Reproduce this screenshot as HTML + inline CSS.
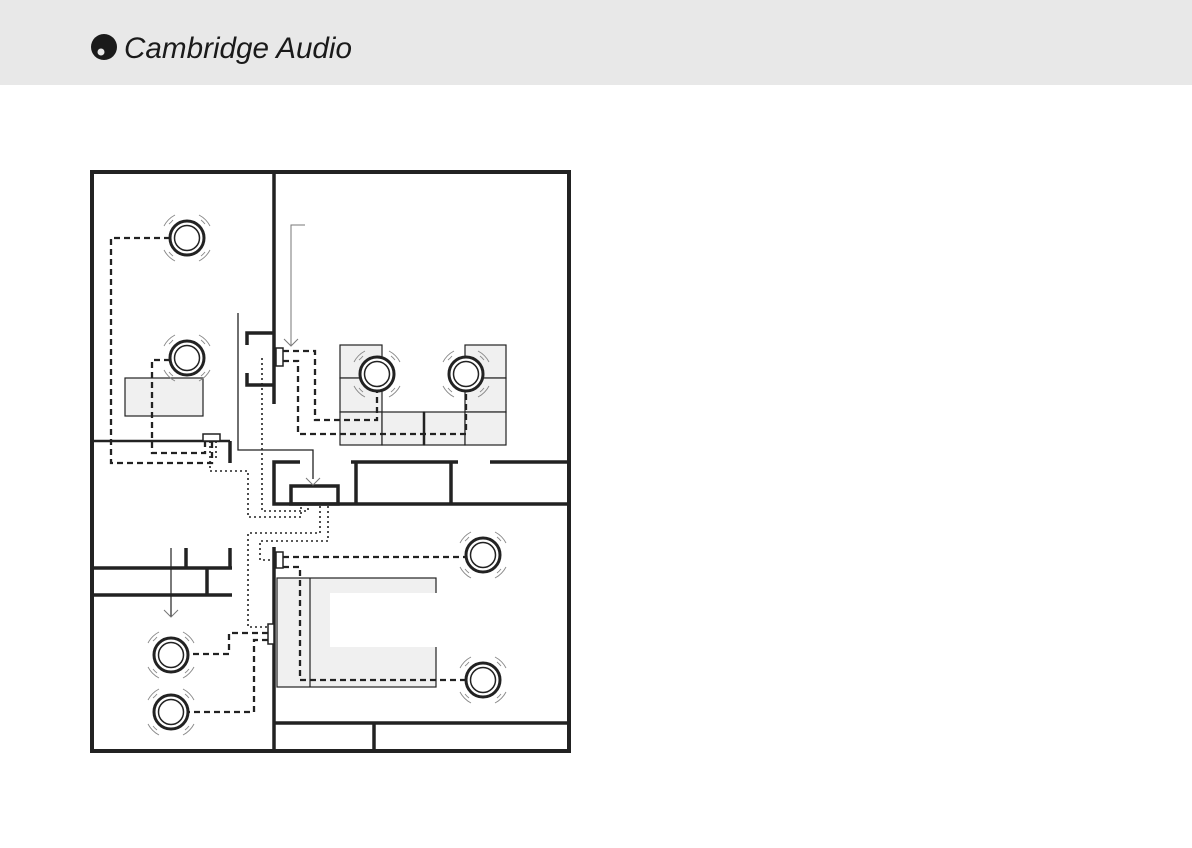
<!DOCTYPE html>
<html><head><meta charset="utf-8"><style>
html,body{margin:0;padding:0;background:#fff;}
</style></head><body>
<svg width="1192" height="843" viewBox="0 0 1192 843" xmlns="http://www.w3.org/2000/svg">
<rect x="0" y="0" width="1192" height="85" fill="#e8e8e8"/>
<circle cx="104" cy="47" r="13" fill="#1a1a1a"/>
<circle cx="101" cy="52" r="3.5" fill="#e8e8e8"/>
<text x="124" y="58" font-family="Liberation Sans, sans-serif" font-style="italic" font-size="30" fill="#1a1a1a" textLength="228" lengthAdjust="spacingAndGlyphs">Cambridge Audio</text>

<g fill="none" stroke="#222">
<rect x="92" y="172" width="477" height="579" stroke-width="4"/>
<g stroke-width="3.5">
<line x1="274" y1="172" x2="274" y2="404"/>
<line x1="274" y1="547" x2="274" y2="751"/>
<polyline points="247,345 247,333 274,333"/>
<polyline points="247,373 247,385 274,385"/>
<polyline points="300,462 274,462 274,504 567,504"/>
<rect x="291" y="486" width="47" height="18"/>
<line x1="351" y1="462" x2="458" y2="462"/>
<line x1="356" y1="462" x2="356" y2="504"/>
<line x1="451" y1="462" x2="451" y2="504"/>
<line x1="490" y1="462" x2="567" y2="462"/>
<line x1="92" y1="441" x2="230" y2="441" stroke-width="2.5"/>
<line x1="230" y1="441" x2="230" y2="463"/>
<line x1="92" y1="568" x2="232" y2="568"/>
<line x1="92" y1="595" x2="232" y2="595"/>
<line x1="186" y1="548" x2="186" y2="568"/>
<line x1="230" y1="548" x2="230" y2="568"/>
<line x1="207" y1="568" x2="207" y2="595"/>
<line x1="274" y1="723" x2="567" y2="723"/>
<line x1="374" y1="723" x2="374" y2="751"/>
</g>
<polyline points="238,313 238,450 313,450 313,479" stroke-width="1.3"/>
<polyline points="306,478 313,485 320,478" stroke="#777" stroke-width="1"/>
<polyline points="305,225 291,225 291,345" stroke="#777" stroke-width="1"/>
<polyline points="284,339 291,346 298,339" stroke="#777" stroke-width="1"/>
<line x1="171" y1="548" x2="171" y2="617" stroke-width="1.2"/>
<polyline points="164,610 171,617 178,610" stroke="#777" stroke-width="1"/>
<rect x="125" y="378" width="78" height="38" fill="#f0f0f0" stroke-width="1.2"/>
<rect x="277" y="578" width="159" height="109" fill="#f0f0f0" stroke-width="1.2"/>
<rect x="330" y="593" width="107" height="54" fill="#fff" stroke="none"/>
<line x1="310" y1="578" x2="310" y2="687" stroke-width="1.2"/>
<g fill="#f0f0f0" stroke-width="1.2">
<rect x="340" y="345" width="42" height="33"/><rect x="340" y="378" width="42" height="34"/>
<rect x="465" y="345" width="41" height="33"/><rect x="465" y="378" width="41" height="34"/>
<rect x="340" y="412" width="42" height="33"/><rect x="382" y="412" width="42" height="33"/>
<rect x="424" y="412" width="41" height="33"/><rect x="465" y="412" width="41" height="33"/>
</g>
<line x1="424" y1="412" x2="424" y2="445" stroke-width="2.5"/>
<g fill="#fff" stroke-width="1.5">
<rect x="203" y="434" width="17" height="7"/>
<rect x="276" y="348" width="7" height="18"/>
<rect x="276" y="552" width="7" height="16"/>
<rect x="268" y="624" width="6" height="20"/>
</g>
<g stroke-width="2.3" stroke-dasharray="6,4">
<polyline points="170,238 111,238 111,463 212,463 212,441"/>
<polyline points="170,360 152,360 152,453 205,453 205,441"/>
<polyline points="283,351 315,351 315,420 377,420 377,391"/>
<polyline points="283,361 298,361 298,434 466,434 466,391"/>
<polyline points="283,557 466,557"/>
<polyline points="283,567 300,567 300,680 466,680"/>
<polyline points="268,633 229,633 229,654 187,654"/>
<polyline points="268,640 254,640 254,712 187,712"/>
</g>
<g stroke-width="1.6" stroke-dasharray="2,3">
<polyline points="210,441 210,471 248,471 248,517 301,517 301,506"/>
<polyline points="216,441 216,460"/>
<polyline points="262,358 262,511 308,511 308,506"/>
<polyline points="320,506 320,533 248,533 248,627 268,627"/>
<polyline points="328,506 328,541 260,541 260,560 276,560"/>
</g>
</g>
<defs>
<g id="spk" fill="none">
<circle r="17" stroke="#222" stroke-width="3"/>
<circle r="12.5" stroke="#222" stroke-width="1.5"/>
<g stroke="#888" stroke-width="0.9">
<path d="M-14,-18 A23,23 0 0 1 -18,-14"/><path d="M-12,-23 A26,26 0 0 0 -23,-12"/>
<path d="M14,-18 A23,23 0 0 1 18,-14"/><path d="M12,-23 A26,26 0 0 1 23,-12"/>
<path d="M-14,18 A23,23 0 0 1 -18,14"/><path d="M-12,23 A26,26 0 0 1 -23,12"/>
<path d="M14,18 A23,23 0 0 0 18,14"/><path d="M12,23 A26,26 0 0 0 23,12"/>
</g>
</g>
</defs>
<g>
<circle cx="187" cy="238" r="17" fill="#fff"/><use href="#spk" x="187" y="238"/>
<circle cx="187" cy="358" r="17" fill="#fff"/><use href="#spk" x="187" y="358"/>
<circle cx="377" cy="374" r="17" fill="#fff"/><use href="#spk" x="377" y="374"/>
<circle cx="466" cy="374" r="17" fill="#fff"/><use href="#spk" x="466" y="374"/>
<use href="#spk" x="483" y="555"/>
<use href="#spk" x="483" y="680"/>
<use href="#spk" x="171" y="655"/>
<use href="#spk" x="171" y="712"/>
</g>
</svg>
</body></html>
